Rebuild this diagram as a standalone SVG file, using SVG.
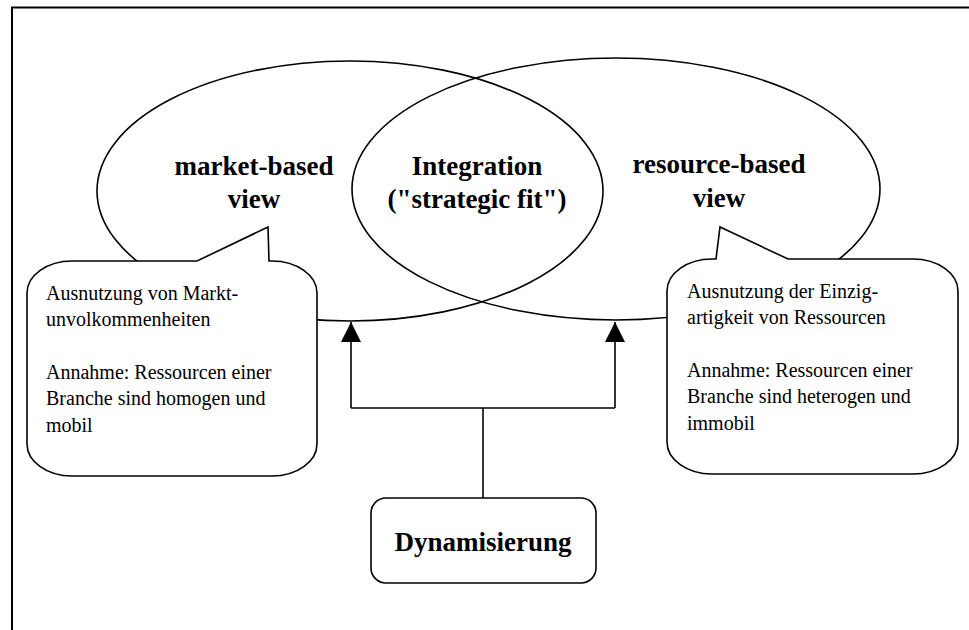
<svg xmlns="http://www.w3.org/2000/svg" width="969" height="630" viewBox="0 0 969 630">
<style>
.line{fill:none;stroke:#000;stroke-width:1.6}
.shape{fill:#fff;stroke:#000;stroke-width:1.6}
.title{font-family:'Liberation Serif','Times New Roman',serif;font-size:27px;font-weight:bold;text-anchor:middle;fill:#000}
.body{font-family:'Liberation Serif','Times New Roman',serif;font-size:20px;fill:#000}
</style>
<defs>
<marker id="arrow" markerWidth="20" markerHeight="20" viewBox="0 0 20 20" refX="20" refY="10" orient="auto" markerUnits="userSpaceOnUse">
<path d="M0,0 L20,10 L0,20 Z" fill="#000"/>
</marker>
</defs>
<rect x="12" y="7.5" width="1000" height="700" fill="#fff" stroke="#000" stroke-width="2"/>
<g id="market-based">
<ellipse class="line" cx="350" cy="191" rx="253" ry="130"/>
<text class="title" x="254" y="175">market-based</text>
<text class="title" x="254" y="208">view</text>
</g>
<g id="resource-based">
<ellipse class="line" cx="616" cy="189" rx="264" ry="131"/>
<text class="title" x="719" y="173">resource-based</text>
<text class="title" x="719" y="207">view</text>
</g>
<g id="integration">
<text class="title" x="477" y="175">Integration</text>
<text class="title" x="477" y="208">("strategic fit")</text>
</g>
<g id="callout-market">
<path class="shape" d="M72,261 L197,261 L268,227 L269,261 L272,261 A45,32 0 0 1 317,293 L317,444 A45,32 0 0 1 272,476 L72,476 A45,32 0 0 1 27,444 L27,293 A45,32 0 0 1 72,261 Z"/>
<text class="body" x="46" y="300">Ausnutzung von Markt-</text>
<text class="body" x="46" y="326">unvolkommenheiten</text>
<text class="body" x="46" y="379">Annahme: Ressourcen einer</text>
<text class="body" x="46" y="405">Branche sind homogen und</text>
<text class="body" x="46" y="432">mobil</text>
</g>
<g id="callout-resource">
<path class="shape" d="M712,259 L716,259 L720,227 L788,259 L913,259 A45,32 0 0 1 958,291 L958,442 A45,32 0 0 1 913,474 L712,474 A45,32 0 0 1 667,442 L667,291 A45,32 0 0 1 712,259 Z"/>
<text class="body" x="687" y="298">Ausnutzung der Einzig-</text>
<text class="body" x="687" y="324">artigkeit von Ressourcen</text>
<text class="body" x="687" y="377">Annahme: Ressourcen einer</text>
<text class="body" x="687" y="403">Branche sind heterogen und</text>
<text class="body" x="687" y="430">immobil</text>
</g>
<g id="dynamisierung">
<rect class="shape" x="371" y="498" width="225" height="85" rx="15" ry="15"/>
<text class="title" x="483" y="551">Dynamisierung</text>
</g>
<g id="connectors">
<polyline class="line" points="483,498 483,408"/>
<polyline class="line" points="351,408 615,408"/>
<line class="line" x1="351" y1="408" x2="351" y2="322" marker-end="url(#arrow)"/>
<line class="line" x1="615" y1="408" x2="615" y2="322" marker-end="url(#arrow)"/>
</g>
</svg>
